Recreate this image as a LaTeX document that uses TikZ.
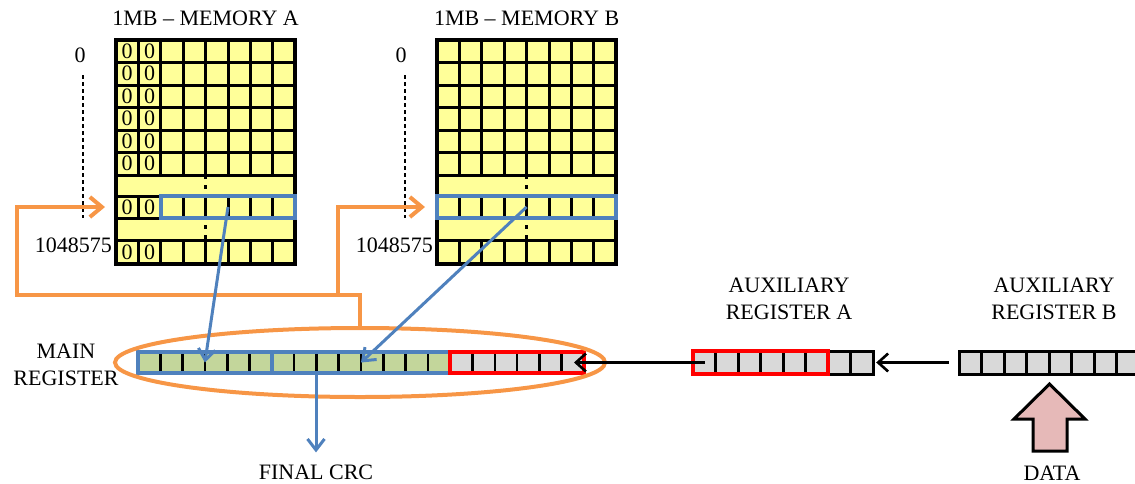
\documentclass[tikz,border=0pt]{standalone}
\usepackage{fontspec}
\setmainfont{Liberation Serif}
\usetikzlibrary{arrows.meta,shapes.geometric}

\definecolor{memyellow}{HTML}{FFFF99}
\definecolor{regblue}{HTML}{4F81BD}
\definecolor{regred}{HTML}{FF0000}
\definecolor{wireorange}{HTML}{F79646}
\definecolor{reggreen}{HTML}{C3D69B}
\definecolor{reggray}{HTML}{D9D9D9}
\definecolor{datapink}{HTML}{E6B9B8}

\tikzset{
  lbl/.style={font=\fontsize{22}{27}\selectfont, align=center, inner sep=0pt},
  cellline/.style={line width=3pt},
  tick/.style={line width=2.6pt},
  addr/.style={line width=1.2pt, dash pattern=on 4pt off 3pt},
  midline/.style={line width=2.5pt, dash pattern=on 4pt off 6pt},
  bluebox/.style={draw=regblue, line width=4pt, inner sep=0pt},
  redbox/.style={draw=regred, line width=4pt, inner sep=0pt},
  feed/.style={draw=wireorange, line width=4pt, -{Straight Barb[length=12pt,width=20pt]}},
  blueline/.style={draw=regblue, line width=3pt, -{Straight Barb[length=11pt,width=17pt]}},
  push/.style={line width=2.6pt, -{Straight Barb[length=10pt,width=18pt]}},
}

\begin{document}
\begin{tikzpicture}[x=1pt, y=-1pt]
    \useasboundingbox (0,0) rectangle (1135,483);

    % memories
    \foreach \L in {116,437} {
        \fill[memyellow] (\L,40) rectangle ++(179.2,224);
        \foreach \r in {62.5,85,107.5,130,152.5,175,196,218,240}
            \draw[cellline] (\L,\r) -- ++(179.2,0);
        \foreach \c in {1,...,7} {
            \draw[cellline] (\L+\c*22.4,40) -- ++(0,135);
            \draw[cellline] (\L+\c*22.4,196) -- ++(0,22);
            \draw[cellline] (\L+\c*22.4,240) -- ++(0,24);
        }
        \draw[midline] (\L+89.6,175) -- ++(0,65);
        \draw[line width=3.5pt] (\L,40) rectangle ++(179.2,224);
    }
    \foreach \y in {51.25,73.75,96.25,118.75,141.25,163.75,207,252} {
        \node[lbl] at (127.2,\y) {0};
        \node[lbl] at (149.6,\y) {0};
    }

    \node[lbl] (titleA) at (205.6,18) {1MB -- MEMORY A};
    \node[lbl] (titleB) at (526.6,18) {1MB -- MEMORY B};
    \node[lbl] (zeroA) at (80,55) {0};
    \node[lbl, anchor=east] (lastA) at (112,245) {1048575};
    \node[lbl] (zeroB) at (401,55) {0};
    \node[lbl, anchor=east] (lastB) at (433,245) {1048575};
    \draw[addr] (83,75) -- (83,218);
    \draw[addr] (405,75) -- (405,218);

    \node[bluebox, minimum width=134.4pt, minimum height=22pt] (selA) at (228,207) {};
    \node[bluebox, minimum width=179.2pt, minimum height=22pt] (selB) at (526.6,207) {};
    \coordinate (ptrA) at (105,207);
    \coordinate (ptrB) at (425,207);

    % main register
    \fill[reggreen] (138,352) rectangle (450.2,373);
    \fill[reggray] (450.2,352) rectangle (584,373);
    \foreach \k in {1,...,5,7,8,...,13,15,16,...,19}
        \draw[tick] (138+\k*22.3,352) -- ++(0,21);
    \node[bluebox, minimum width=133.8pt, minimum height=21pt] (mainlo) at (204.9,362.5) {};
    \node[bluebox, minimum width=178.4pt, minimum height=21pt] (mainhi) at (361,362.5) {};
    \node[redbox, minimum width=133.8pt, minimum height=21pt] (mainred) at (517.1,362.5) {};
    \node[ellipse, draw=wireorange, line width=4pt, minimum width=490pt, minimum height=69pt] (ring) at (360,362.5) {};
    \node[lbl] (mainlbl) at (66,365) {MAIN\\REGISTER};

    % auxiliary registers
    \foreach \k in {0,...,7} {
        \draw[cellline, fill=reggray] (693+\k*22.5,351) rectangle ++(22.5,23);
        \draw[cellline, fill=reggray] (959+\k*22.5,351) rectangle ++(22.5,23);
    }
    \node[inner sep=0pt, minimum width=180pt, minimum height=23pt] (auxA) at (783,362.5) {};
    \node[inner sep=0pt, minimum width=180pt, minimum height=23pt] (auxB) at (1049,362.5) {};
    \node[redbox, minimum width=135pt, minimum height=23pt] (auxsel) at (760.5,362.5) {};
    \node[lbl] (auxAlbl) at (789,299) {AUXILIARY\\REGISTER A};
    \node[lbl] (auxBlbl) at (1054,299) {AUXILIARY\\REGISTER B};

    % data input
    \draw[line width=3pt, fill=datapink] (1049.5,384) -- (1085,419) -- (1067,419) -- (1067,451)
        -- (1033,451) -- (1033,419) -- (1014,419) -- cycle;
    \node[lbl] (data) at (1052,473) {DATA};
    \node[lbl] (crc) at (316,472) {FINAL CRC};

    % connectors
    \draw[feed] (ring.north) |- (17,295) |- (ptrA);
    \coordinate (fork) at (338,295);
    \draw[feed] (fork) |- (ptrB);
    \draw[blueline] (selA.center) -- (mainlo.center);
    \draw[blueline] (selB.center) -- (mainhi.center);
    \draw[blueline] (crc |- mainhi.south) -- ([yshift=12pt]crc.north);
    \draw[push] ([xshift=12pt]auxA.west) -- ([xshift=-12pt]mainred.east);
    \draw[push] ([xshift=-10pt]auxB.west) -- ([xshift=3pt]auxA.east);
\end{tikzpicture}
\end{document}
